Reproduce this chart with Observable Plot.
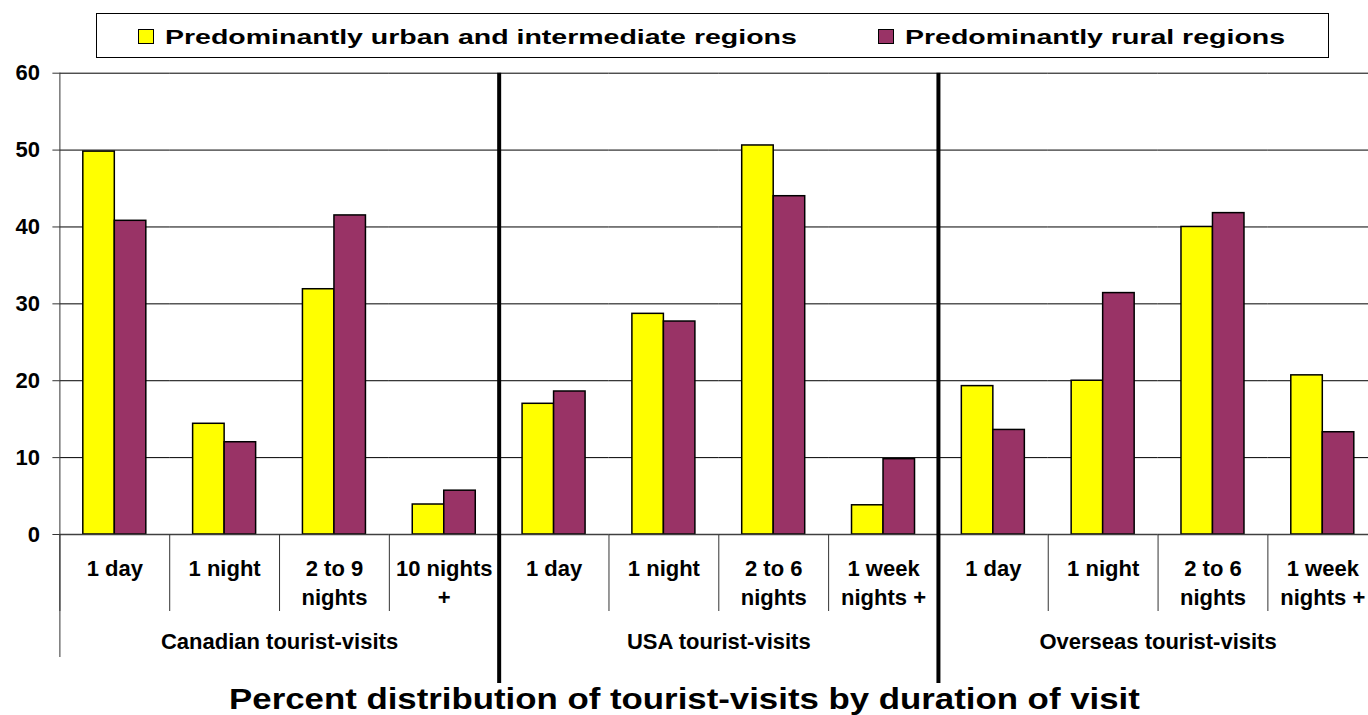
<!DOCTYPE html>
<html>
<head>
<meta charset="utf-8">
<script src="https://cdn.jsdelivr.net/npm/d3@7"></script>
<script src="https://cdn.jsdelivr.net/npm/@observablehq/plot@0.6"></script>
<style>
  html, body { margin: 0; padding: 0; background: #fff; overflow: hidden; }
  body { position: relative; width: 1368px; height: 715px; font-family: "Liberation Sans", Arial, sans-serif; color: #000; }
  #legend { position: absolute; left: 96px; top: 13px; width: 1231px; height: 43px; border: 1px solid #000; }
  #legend .swatch { position: absolute; top: 15px; width: 16px; height: 15px; box-sizing: border-box; border: 1.5px solid #000; }
  #legend .label { position: absolute; top: 12px; font-size: 21px; line-height: 21px; font-weight: bold; white-space: nowrap; transform-origin: left center; transform: scaleX(1.357); }
  #chart { position: absolute; left: 0; top: 60px; width: 1380px; }
  #chart svg { max-width: none !important; }
  #title { position: absolute; left: 0; top: 684px; width: 1368px; text-align: center; font-size: 29px; line-height: 30px; font-weight: bold; white-space: nowrap; }
  #title span { display: inline-block; transform: scaleX(1.2); }
</style>
</head>
<body>
<div id="legend"></div>
<div id="chart"></div>
<div id="title"><span></span></div>
<script>
// Percent distribution of tourist-visits by duration of visit, by region type
const series = ["Predominantly urban and intermediate regions", "Predominantly rural regions"];
const colors = ["#ffff00", "#993366"];
const groups = ["Canadian tourist-visits", "USA tourist-visits", "Overseas tourist-visits"];
const durations = [
  "1 day", "1 night", "2 to 9\nnights", "10 nights\n+",
  "1 day", "1 night", "2 to 6\nnights", "1 week\nnights +",
  "1 day", "1 night", "2 to 6\nnights", "1 week\nnights +"
];
const groupOf = [0, 0, 0, 0, 1, 1, 1, 1, 2, 2, 2, 2];
const urban = [49.8, 14.4, 31.9, 3.9, 17.0, 28.7, 50.6, 3.8, 19.3, 20.0, 40.0, 20.7];
const rural = [40.8, 12.0, 41.5, 5.7, 18.6, 27.7, 44.0, 9.8, 13.6, 31.4, 41.8, 13.3];
const yTicks = [0, 10, 20, 30, 40, 50, 60];
const title = "Percent distribution of tourist-visits by duration of visit";

// one facet per duration category
const keys = durations.map((_, i) => i);
const rows = keys.flatMap(k => [
  {key: k, series: series[0], value: urban[k]},
  {key: k, series: series[1], value: rural[k]}
]);
// each group label sits on the shared edge of its 2nd and 3rd categories
const groupLabels = groups.map((g, gi) => ({key: groupOf.indexOf(gi) + 1, label: g}));
const groupStarts = groups.map((_, gi) => groupOf.indexOf(gi)).slice(1);

const width = 1380, height = 624;
const marginLeft = 59.4, marginRight = 2.8, marginTop = 12.7, marginBottom = 150;
const step = (width - marginLeft - marginRight) / keys.length;
const font = {fontSize: 22, fontWeight: "bold"};
// vertical rules drawn on the left edge of a category facet
const edge = {fx: d => d, x: null, dx: -step / 2};

const chart = Plot.plot({
  width, height, marginLeft, marginRight, marginTop, marginBottom,
  style: {fontFamily: "'Liberation Sans', Arial, sans-serif", color: "#000", background: "transparent", overflow: "visible", maxWidth: "none"},
  fx: {domain: keys, padding: 0, round: false, axis: null},
  x: {domain: series, paddingInner: 0, paddingOuter: 0.743, round: false, axis: null},
  y: {domain: [0, 60], axis: null},
  color: {domain: series, range: colors},
  marks: [
    Plot.gridY(yTicks.slice(1), {stroke: "#000", strokeOpacity: 1}),
    Plot.barY(rows, {fx: "key", x: "series", y: "value", fill: "series", stroke: "#000", strokeWidth: 1.5}),
    Plot.ruleY([0], {stroke: "#404040", strokeWidth: 1.5}),
    // category dividers below the axis
    Plot.ruleX(keys, {...edge, y1: 0, y2: 0, insetBottom: -77, stroke: "#333"}),
    // left edge of the chart, running down past the group labels
    Plot.ruleX([0], {...edge, y1: 60, y2: 0, insetBottom: -123, stroke: "#333"}),
    // heavy dividers between visitor origins
    Plot.ruleX(groupStarts, {...edge, y1: 60, y2: 0, insetBottom: -149, stroke: "#000", strokeWidth: 4}),
    Plot.axisY(yTicks, {tickSize: 7, tickPadding: 13, stroke: "#333", label: null, tickFormat: d => String(d), ...font}),
    Plot.text(keys, {fx: d => d, text: d => durations[d], frameAnchor: "bottom", lineAnchor: "top", dy: 20.5, lineHeight: 1.318, fill: "#000", ...font}),
    Plot.text(groupLabels, {fx: "key", text: "label", frameAnchor: "bottom-right", textAnchor: "middle", lineAnchor: "top", dy: 99, fill: "#000", ...font})
  ]
});
document.getElementById("chart").append(chart);

// legend
const legend = document.getElementById("legend");
const swatchLeft = [41, 781], labelLeft = [68, 808];
series.forEach((s, i) => {
  const sw = document.createElement("div");
  sw.className = "swatch";
  sw.style.left = swatchLeft[i] + "px";
  sw.style.background = colors[i];
  legend.append(sw);
  const lb = document.createElement("div");
  lb.className = "label";
  lb.style.left = labelLeft[i] + "px";
  lb.textContent = s;
  legend.append(lb);
});

document.querySelector("#title span").textContent = title;
</script>
</body>
</html>
